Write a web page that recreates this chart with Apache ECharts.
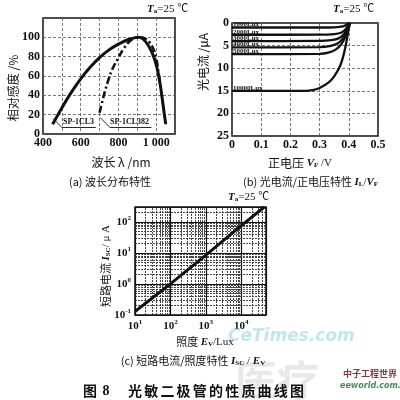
<!DOCTYPE html>
<html>
<head>
<meta charset="utf-8">
<script src="https://cdn.jsdelivr.net/npm/echarts@6/dist/echarts.min.js"></script>
<style>
  html, body { margin: 0; padding: 0; background: #fff; }
  #main { width: 400px; height: 400px; }
</style>
</head>
<body>
<div id="main"></div>
<script>
// (a) spectral response, [wavelength nm, relative %]
const curveCL3 = [[451, 10], [500, 27], [550, 43], [600, 57], [650, 69], [700, 79], [750, 87],
  [800, 93], [850, 97.5], [890, 99.7], [910, 100], [935, 97.5], [960, 91], [985, 81], [1005, 68],
  [1020, 53], [1032, 37], [1043, 21], [1051, 10]];
const curveCL382 = [[700, 22], [720, 38], [745, 55], [770, 68], [800, 79], [830, 89], [860, 96],
  [890, 99.5], [915, 100], [940, 99], [965, 95], [985, 88], [1000, 79], [1012, 64], [1022, 52]];

// (b) photocurrent vs forward voltage, [V, uA]
const luxNames = ['1000Lux', '2000Lux', '3000Lux', '4000Lux', '5000Lux', '10000Lux'];
const ivCurves = [
  [[0, 1.0], [0.3, 1.0], [0.35, 0.95], [0.38, 0.75], [0.395, 0.3], [0.402, 0]],
  [[0, 2.6], [0.3, 2.58], [0.35, 2.45], [0.375, 2.1], [0.39, 1.3], [0.402, 0]],
  [[0, 4.0], [0.3, 3.97], [0.34, 3.8], [0.365, 3.4], [0.385, 2.3], [0.396, 1.0], [0.403, 0]],
  [[0, 5.4], [0.3, 5.35], [0.335, 5.1], [0.36, 4.6], [0.38, 3.4], [0.393, 1.8], [0.403, 0]],
  [[0, 6.9], [0.3, 6.82], [0.33, 6.55], [0.355, 5.9], [0.375, 4.6], [0.39, 2.7], [0.404, 0]],
  [[0, 15], [0.25, 15], [0.28, 14.8], [0.3, 14.4], [0.33, 13.2], [0.35, 11.8], [0.37, 9.5],
    [0.38, 7.6], [0.39, 4.8], [0.4, 1.2], [0.405, 0]]
];

// (c) short circuit current vs illuminance, [lux, uA]
const iscCurve = [[10, 0.13], [100, 1.0], [1000, 8.5], [10000, 75], [45000, 300]];
const minorMult = [2, 3, 4, 5, 6, 7, 8, 9];
const xDecades = [10, 100, 1000, 10000];
const yDecades = [0.1, 1, 10, 100];

const serif = "'Liberation Serif','Noto Sans CJK SC',serif";
const black = '#111';

const chart = echarts.init(document.getElementById('main'));

const dashSplit = { show: true, lineStyle: { color: '#555', width: 0.8, type: [3, 2] } };
const lbl = { fontFamily: serif, fontWeight: 'bold', fontSize: 12, color: black };
const supRich = { s: { fontFamily: serif, fontSize: 7, fontWeight: 'bold', color: black, padding: [0, 0, 7, 0] },
  n: { fontFamily: serif, fontSize: 11, fontWeight: 'bold', color: black } };
const powLabel = v => {
  const e = Math.log10(v);
  return Math.abs(e - Math.round(e)) < 1e-6 ? '{n|10}{s|' + Math.round(e) + '}' : '';
};

const minorX = [];
xDecades.forEach(d => minorMult.forEach(m => { if (d * m < 50000) minorX.push(d * m); }));
const minorY = [];
yDecades.forEach(d => minorMult.forEach(m => { if (d * m < 300) minorY.push(d * m); }));

const subRich = {
  i: { fontFamily: serif, fontStyle: 'italic', fontSize: 11, fontWeight: 'bold', color: black },
  b: { fontFamily: serif, fontSize: 7, fontWeight: 'bold', color: black, padding: [5, 0, 0, 0] },
  t: { fontFamily: serif, fontSize: 11, color: black }
};
function txt(x, y, text, size, opts) {
  opts = opts || {};
  return {
    type: 'text', x: x, y: y, rotation: opts.rot || 0, z: opts.z || 10,
    style: {
      text: text, fontFamily: opts.family || serif, fontSize: size,
      fontWeight: opts.weight || 'normal', fontStyle: opts.style || 'normal',
      fill: opts.color || black, textAlign: opts.align || 'center', textVerticalAlign: 'middle',
      rich: opts.rich
    }
  };
}

const ivSeries = ivCurves.map((pts, k) => ({
  type: 'line', xAxisIndex: 1, yAxisIndex: 1, symbol: 'none', smooth: 0.3,
  lineStyle: { color: black, width: 2.3 },
  data: pts,
  markPoint: {
    silent: true, symbol: 'rect', symbolSize: 0.1,
    label: { show: true, position: 'right', distance: 1, offset: [0, -3], formatter: luxNames[k],
      fontFamily: serif, fontSize: 7, fontWeight: 'bold', color: black },
    data: [{ coord: pts[0] }]
  }
}));

const graphics = [
  txt(235, 380, '医疗', 42, { family: "'Noto Sans CJK SC'", weight: 'bold', color: 'rgba(0,0,0,0.09)', align: 'left', z: 1 }),
  txt(228, 337, 'CeTimes.com', 17, { family: "'DejaVu Sans'", weight: 'bold', style: 'italic', color: 'rgba(120,200,225,0.45)', align: 'left', z: 1 }),
  txt(343, 374, '中子工程世界', 9, { family: "'Noto Sans CJK SC'", weight: 'bold', color: '#8a3a3a', align: 'left' }),
  txt(340, 386, 'eeworld.com.cn', 8, { family: "'DejaVu Sans'", style: 'italic', weight: 'bold', color: '#4a8a5a', align: 'left' }),
  // (a)
  txt(147, 9, '{i|T}{b|a}{t|=25 ℃}', 11, { rich: subRich, align: 'left' }),
  txt(13, 88, '相对感度 /%', 12, { rot: Math.PI / 2, family: "'Noto Sans CJK SC'" }),
  txt(121, 162, '波长 λ /nm', 12, { family: "'Noto Sans CJK SC'" }),
  txt(110, 182, '(a) 波长分布特性', 11, { family: "'Noto Sans CJK SC'" }),
  txt(63, 122, 'SP-1CL3', 8, { weight: 'bold', align: 'left' }),
  txt(110, 122, 'SP-1CL382', 8, { weight: 'bold', align: 'left' }),
  // (b)
  txt(333, 9, '{i|T}{b|a}{t|=25 ℃}', 11, { rich: subRich, align: 'left' }),
  txt(203, 62, '光电流 /μA', 12, { rot: Math.PI / 2, family: "'Noto Sans CJK SC'" }),
  txt(268, 163, '正电压 {i|V}{b|F}{t| /V}', 12, { family: "'Noto Sans CJK SC'", rich: subRich, align: 'left' }),
  txt(243, 182, '(b) 光电流/正电压特性 {i|I}{b|L}{t|/}{i|V}{b|F}', 11, { family: "'Noto Sans CJK SC'", rich: subRich, align: 'left' }),
  // (c)
  txt(228, 197, '{i|T}{b|a}{t|=25 ℃}', 11, { rich: subRich, align: 'left' }),
  txt(106, 266, '短路电流 {i|I}{b|SC}{t|/ μ A}', 11, { rot: Math.PI / 2, family: "'Noto Sans CJK SC'", rich: subRich }),
  txt(205, 342, '照度 {i|E}{b|V}{t|/Lux}', 11, { family: "'Noto Sans CJK SC'", rich: subRich }),
  txt(193, 361, '(c) 短路电流/照度特性 {i|I}{b|SC}{t| / }{i|E}{b|V}', 11, { family: "'Noto Sans CJK SC'", rich: subRich }),
  // figure caption
  txt(90, 391, '图', 14, { family: "'Noto Sans CJK SC'", weight: 'bold' }),
  txt(106, 391, '8', 14, { weight: 'bold' })
];
'光敏二极管的性质曲线图'.split('').forEach((c, i) => {
  graphics.push(txt(135 + i * 16.2, 391, c, 14, { family: "'Noto Sans CJK SC'", weight: 'bold' }));
});

const option = {
  animation: false,
  backgroundColor: '#fff',
  grid: [
    { left: 43, top: 18, width: 132, height: 116, show: true, borderColor: black, borderWidth: 1.5 },
    { left: 232, top: 23, width: 146, height: 113, show: true, borderColor: black, borderWidth: 1.5 },
    { left: 135, top: 207, width: 131, height: 108, show: true, borderColor: black, borderWidth: 1.5 }
  ],
  xAxis: [
    {
      gridIndex: 0, type: 'value', min: 400, max: 1100, interval: 100,
      axisLine: { show: false }, axisTick: { show: false }, splitLine: dashSplit,
      axisLabel: Object.assign({ margin: 3, formatter: v => v % 200 === 0 ? (v === 1000 ? '1 000' : String(v)) : '' }, lbl)
    },
    {
      gridIndex: 1, type: 'value', min: 0, max: 0.5, interval: 0.1,
      axisLine: { show: false }, axisTick: { show: false }, splitLine: dashSplit,
      axisLabel: Object.assign({ margin: 3, formatter: v => v === 0 ? '0' : v.toFixed(1) }, lbl)
    },
    {
      gridIndex: 2, type: 'log', logBase: 10, min: 10, max: 50000,
      axisLine: { show: false }, axisTick: { show: false },
      splitLine: { show: true, lineStyle: { color: '#111', width: 1.2 } },
      axisLabel: { margin: 4, formatter: powLabel, rich: supRich }
    }
  ],
  yAxis: [
    {
      gridIndex: 0, type: 'value', min: 0, max: 120, interval: 20,
      axisLine: { show: false }, axisTick: { show: false }, splitLine: dashSplit,
      axisLabel: Object.assign({ margin: 3, formatter: v => v === 120 ? '' : String(v) }, lbl)
    },
    {
      gridIndex: 1, type: 'value', min: 0, max: 25, interval: 5, inverse: true,
      axisLine: { show: false }, axisTick: { show: false }, splitLine: dashSplit,
      axisLabel: Object.assign({ margin: 3 }, lbl)
    },
    {
      gridIndex: 2, type: 'log', logBase: 10, min: 0.1, max: 300,
      axisLine: { show: false }, axisTick: { show: false },
      splitLine: { show: true, lineStyle: { color: '#111', width: 1.2 } },
      axisLabel: { margin: 4, formatter: powLabel, rich: supRich }
    }
  ],
  series: [
    {
      name: 'SP-1CL3', type: 'line', xAxisIndex: 0, yAxisIndex: 0, smooth: 0.4, symbol: 'none',
      lineStyle: { color: black, width: 3 }, data: curveCL3,
      markLine: {
        silent: true, symbol: ['none', 'none'], label: { show: false },
        lineStyle: { color: black, width: 0.9, type: 'solid' },
        data: [
          [{ coord: [453, 16] }, { coord: [499, 7] }], [{ coord: [499, 7] }, { coord: [680, 7] }],
          [{ coord: [703, 17] }, { coord: [754, 7] }], [{ coord: [754, 7] }, { coord: [975, 7] }]
        ]
      }
    },
    {
      name: 'SP-1CL382', type: 'line', xAxisIndex: 0, yAxisIndex: 0, smooth: 0.4, symbol: 'none',
      lineStyle: { color: black, width: 2.6, type: [7, 3, 2, 3] }, data: curveCL382
    },
    ...ivSeries,
    {
      name: 'Isc', type: 'line', xAxisIndex: 2, yAxisIndex: 2, symbol: 'none',
      lineStyle: { color: black, width: 3 }, data: iscCurve, z: 5,
      markLine: {
        silent: true, symbol: ['none', 'none'], label: { show: false },
        lineStyle: { color: '#333', width: 0.9, type: [2, 1] },
        data: minorX.map(v => ({ xAxis: v })).concat(minorY.map(v => ({ yAxis: v })))
      }
    }
  ],
  graphic: graphics
};

chart.setOption(option);
</script>
</body>
</html>
